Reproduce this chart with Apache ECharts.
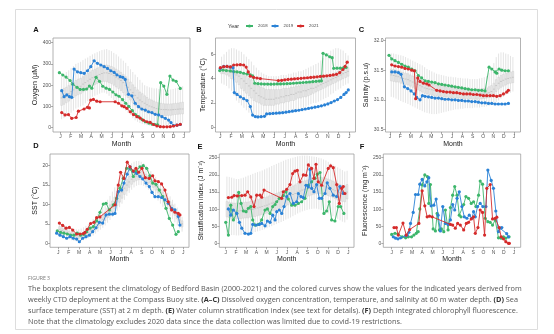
<!DOCTYPE html>
<html>
<head>
<meta charset="utf-8">
<script src="https://cdn.jsdelivr.net/npm/echarts@6/dist/echarts.min.js"></script>
<style>
html,body{margin:0;padding:0;background:#fff}
#c{width:554px;height:334px}
</style>
</head>
<body>
<div id="c"></div>
<script>
// ---- axis labels ----
const monthLetters = ['J','F','M','A','M','J','J','A','S','O','N','D','J'];
const monthTicks = [0,1,2,3,4,5,6,7,8,9,10,11,12];
const years = ['2018','2019','2021'];
const yearColors = ['#3db66b','#2a82d6','#d52b2b'];

// ---- (A) dissolved oxygen, [month, µM] ----
const oxy2018 = [[-0.10,259],[0.23,248],[0.55,238],[0.94,222],[1.20,205],[1.62,190],[1.92,180],[2.24,180],[2.55,182],[2.82,196],[3.05,186],[3.47,237],[3.80,218],[4.12,195],[4.45,186],[4.77,180],[5.10,168],[5.40,155],[5.70,148],[6.05,132],[6.35,115],[6.65,100],[7.00,80],[7.30,62],[7.60,52],[7.95,38],[8.25,28],[8.60,22],[8.90,17],[9.20,15],[9.45,14],[9.75,212],[10.05,196],[10.35,157],[10.65,243],[10.95,224],[11.25,218],[11.65,185]];
const oxy2019 = [[0.13,174],[0.36,146],[0.62,154],[0.88,146],[1.10,143],[1.33,276],[1.66,263],[1.98,259],[2.31,256],[2.63,268],[2.95,287],[3.28,315],[3.60,303],[3.93,295],[4.25,287],[4.58,279],[4.90,268],[5.23,260],[5.49,249],[5.81,240],[6.07,237],[6.30,227],[6.62,157],[6.95,150],[7.27,115],[7.60,99],[7.92,88],[8.25,83],[8.57,75],[8.90,71],[9.22,63],[9.55,60],[9.87,52],[10.20,44],[10.52,36],[10.75,24],[11.00,10],[11.33,12],[11.66,15]];
const oxy2021 = [[0.13,71],[0.45,60],[0.78,62],[1.10,44],[1.53,48],[1.75,78],[2.30,88],[2.63,96],[2.82,93],[2.95,130],[3.21,133],[3.54,125],[3.86,122],[5.32,122],[5.65,115],[5.97,103],[6.20,99],[6.46,91],[6.79,75],[7.10,62],[7.44,52],[7.76,45],[8.08,35],[8.41,28],[8.73,25],[9.06,15],[9.38,8],[9.71,5],[10.03,4],[10.36,4],[10.68,5],[11.00,8],[11.33,12],[11.66,16]];
const oxyLo  = [40,45,55,60, 70,80,90,95, 100,105,115,125,135, 145,150,155,160, 165,165,160,150,140, 130,120,110,100, 90,80,70,60, 45,35,28,22,18, 15,12,10,8, 5,5,5,5,5, 5,8,10,12, 15,18,20,22];
const oxyQ1  = [105,110,118,125, 135,142,150,155, 160,168,175,182,190, 198,203,208,212, 215,218,216,212,208, 200,192,185,175, 165,152,142,130, 118,105,95,88,82, 76,72,68,65, 62,60,58,57,57, 57,58,58,60, 62,63,64,65];
const oxyMed = [140,145,150,160, 170,178,185,190, 195,205,212,220,228, 235,240,245,250, 255,258,258,255,252, 245,238,230,222, 212,200,190,178, 165,152,140,130,122, 115,108,102,98, 94,90,88,86,85, 85,84,84,85, 86,87,88,88];
const oxyQ3  = [178,185,190,198, 208,215,222,228, 232,240,248,255,262, 270,275,280,285, 292,295,295,292,288, 282,275,268,260, 250,240,228,215, 202,190,178,168,160, 150,142,135,130, 125,120,117,115,113, 112,112,112,113, 115,116,118,120];
const oxyHi  = [240,250,262,270, 280,290,300,305, 310,318,325,330,338, 345,350,355,360, 365,368,370,365,360, 352,345,335,325, 315,305,290,275, 262,250,238,225,212, 200,195,190,188, 185,185,182,180,180, 178,178,180,182, 185,188,190,195];

// ---- (B) temperature at 60 m, [month, °C] ----
const temp2018 = [[-0.06,4.66],[0.25,4.70],[0.56,4.66],[0.93,4.63],[1.24,4.58],[1.55,4.55],[1.86,4.52],[2.17,4.44],[2.48,4.38],[2.79,4.30],[3.00,4.22],[3.20,3.62],[3.50,3.58],[3.80,3.56],[4.10,3.55],[4.40,3.55],[4.70,3.54],[5.00,3.55],[5.30,3.56],[5.60,3.56],[5.90,3.57],[6.20,3.58],[6.50,3.60],[6.80,3.62],[7.10,3.64],[7.40,3.66],[7.70,3.68],[8.00,3.70],[8.30,3.72],[8.60,3.75],[8.90,3.78],[9.20,3.80],[9.40,3.82],[9.55,6.08],[9.86,5.95],[10.17,5.80],[10.40,5.72],[10.54,4.85],[10.85,4.86],[11.16,4.86],[11.47,4.90],[11.70,4.92]];
const temp2019 = [[0.00,4.85],[0.31,5.00],[0.62,5.00],[0.93,4.95],[1.18,4.90],[1.30,2.85],[1.55,2.70],[1.86,2.50],[2.17,2.35],[2.48,2.20],[2.79,1.70],[3.00,1.00],[3.25,0.88],[3.50,0.85],[3.80,0.87],[4.10,0.90],[4.30,1.10],[4.60,1.12],[4.90,1.14],[5.20,1.16],[5.50,1.18],[5.80,1.20],[6.10,1.24],[6.40,1.28],[6.70,1.32],[7.00,1.36],[7.30,1.40],[7.60,1.45],[7.90,1.50],[8.20,1.55],[8.50,1.60],[8.80,1.65],[9.10,1.70],[9.40,1.76],[9.70,1.84],[10.00,1.92],[10.30,2.03],[10.60,2.16],[10.90,2.28],[11.20,2.45],[11.50,2.70],[11.70,2.85],[11.90,3.07]];
const temp2021 = [[0.00,4.90],[0.31,4.98],[0.62,5.00],[0.93,4.96],[1.24,5.12],[1.55,5.13],[1.86,5.15],[2.17,5.12],[2.40,4.95],[2.60,4.55],[2.79,4.20],[3.10,4.10],[3.41,4.05],[3.72,4.00],[5.40,3.84],[5.70,3.86],[6.00,3.90],[6.30,3.93],[6.60,3.95],[6.90,3.98],[7.20,4.00],[7.50,4.02],[7.80,4.05],[8.10,4.07],[8.40,4.10],[8.70,4.12],[9.00,4.15],[9.30,4.18],[9.60,4.20],[9.90,4.23],[10.20,4.26],[10.50,4.30],[10.80,4.35],[11.10,4.50],[11.40,4.75],[11.60,5.00],[11.80,5.35]];
const tempLo  = [3.6,3.5,3.4,3.2, 3.0,2.6,2.2,2.0, 1.8,1.6,1.4,1.2,1.1, 1.0,0.9,0.9,0.9, 0.9,0.9,1.0,1.0,1.0, 1.1,1.1,1.2,1.2, 1.3,1.3,1.4,1.4, 1.5,1.5,1.6,1.6,1.7, 1.8,1.9,2.0,2.0, 2.1,2.2,2.3,2.4,2.5, 2.7,2.8,3.0,3.1, 3.2,3.4,3.5,3.6];
const tempQ1  = [4.4,4.4,4.3,4.2, 4.0,3.9,3.7,3.5, 3.2,3.0,2.8,2.6,2.4, 2.2,2.1,2.0,1.9, 1.8,1.8,1.8,1.8,1.8, 1.9,1.9,2.0,2.0, 2.1,2.1,2.2,2.2, 2.3,2.4,2.4,2.5,2.5, 2.6,2.7,2.8,2.9, 3.0,3.1,3.2,3.3,3.4, 3.5,3.6,3.7,3.8, 3.9,4.0,4.1,4.2];
const tempMed = [4.7,4.7,4.6,4.6, 4.5,4.4,4.3,4.2, 4.0,3.8,3.6,3.4,3.2, 3.0,2.8,2.6,2.5, 2.4,2.3,2.3,2.3,2.3, 2.4,2.4,2.5,2.5, 2.6,2.6,2.7,2.7, 2.8,2.9,2.9,3.0,3.0, 3.1,3.2,3.2,3.3, 3.4,3.5,3.6,3.7,3.8, 3.9,4.0,4.1,4.2, 4.3,4.4,4.5,4.6];
const tempQ3  = [5.0,5.0,5.0,4.9, 4.9,4.8,4.7,4.6, 4.5,4.4,4.2,4.0,3.9, 3.7,3.5,3.4,3.3, 3.2,3.1,3.1,3.1,3.1, 3.1,3.1,3.1,3.2, 3.2,3.2,3.3,3.3, 3.4,3.4,3.5,3.5,3.6, 3.6,3.7,3.8,3.8, 3.9,4.0,4.1,4.2,4.3, 4.3,4.4,4.5,4.6, 4.7,4.8,4.9,4.9];
const tempHi  = [5.8,6.0,6.2,6.4, 6.5,6.5,6.4,6.3, 6.2,6.0,5.8,5.6,5.4, 5.1,4.9,4.7,4.5, 4.4,4.3,4.2,4.2,4.2, 4.2,4.2,4.3,4.3, 4.3,4.4,4.4,4.5, 4.5,4.6,4.6,4.7,4.8, 4.9,5.0,5.1,5.2, 5.3,5.5,5.7,5.9,6.1, 6.3,6.4,6.5,6.5, 6.4,6.3,6.1,5.9];

// ---- (C) salinity at 60 m, [month, p.s.u] ----
const sal2018 = [[-0.10,31.75],[0.16,31.69],[0.48,31.66],[0.81,31.63],[1.13,31.60],[1.45,31.57],[1.77,31.55],[2.10,31.52],[2.42,31.49],[2.74,31.41],[3.06,31.37],[3.39,31.32],[3.71,31.31],[4.03,31.30],[4.35,31.29],[4.68,31.27],[5.00,31.26],[5.32,31.25],[5.65,31.24],[5.97,31.23],[6.29,31.22],[6.61,31.21],[6.94,31.20],[7.26,31.19],[7.58,31.18],[7.90,31.17],[8.23,31.17],[8.55,31.16],[8.87,31.16],[9.19,31.15],[9.58,31.55],[9.84,31.52],[10.16,31.47],[10.32,31.45],[10.55,31.52],[10.81,31.50],[11.13,31.49],[11.45,31.49]];
const sal2019 = [[0.16,31.47],[0.48,31.47],[0.81,31.46],[1.06,31.43],[1.39,31.22],[1.71,31.19],[2.03,31.15],[2.35,31.10],[2.58,31.04],[2.90,31.00],[3.13,31.07],[3.39,31.06],[3.71,31.05],[4.03,31.04],[4.35,31.03],[4.68,31.03],[5.00,31.02],[5.32,31.01],[5.65,31.01],[5.97,31.00],[6.29,31.00],[6.61,30.99],[6.94,30.99],[7.26,30.98],[7.58,30.98],[7.90,30.97],[8.23,30.97],[8.55,30.96],[8.87,30.95],[9.19,30.95],[9.52,30.94],[9.84,30.94],[10.16,30.93],[10.48,30.93],[10.81,30.93],[11.13,30.93],[11.45,30.94]];
const sal2021 = [[0.16,31.59],[0.48,31.57],[0.81,31.56],[1.13,31.55],[1.45,31.53],[1.77,31.52],[2.10,31.50],[2.35,31.49],[2.48,31.02],[2.68,31.37],[2.90,31.31],[3.23,31.28],[3.55,31.27],[3.77,31.25],[4.52,31.16],[4.84,31.15],[5.16,31.14],[5.48,31.13],[5.81,31.13],[6.13,31.12],[6.45,31.12],[6.77,31.11],[7.10,31.10],[7.42,31.10],[7.74,31.10],[8.06,31.09],[8.39,31.09],[8.71,31.08],[9.03,31.07],[9.35,31.07],[9.68,31.07],[10.00,31.07],[10.32,31.06],[10.65,31.07],[10.97,31.10],[11.29,31.13],[11.45,31.16]];
const salLo  = [31.05,31.04,31.02,31.00, 30.98,30.96,30.95,30.93, 30.91,30.89,30.87,30.85,30.83, 30.81,30.79,30.78,30.77, 30.76,30.76,30.76,30.77,30.78, 30.79,30.80,30.81,30.82, 30.83,30.84,30.84,30.85, 30.85,30.86,30.86,30.86,30.86, 30.87,30.87,30.87,30.88, 30.88,30.89,30.90,30.91,30.93, 30.96,30.99,31.02,31.05, 31.08,31.10,31.12,31.14];
const salQ1  = [31.32,31.31,31.30,31.30, 31.28,31.27,31.26,31.25, 31.23,31.21,31.19,31.17,31.15, 31.13,31.11,31.10,31.09, 31.08,31.07,31.07,31.06,31.06, 31.05,31.05,31.04,31.04, 31.04,31.03,31.03,31.03, 31.02,31.02,31.02,31.02,31.01, 31.01,31.01,31.01,31.02, 31.02,31.03,31.04,31.06,31.09, 31.14,31.18,31.21,31.23, 31.25,31.27,31.28,31.29];
const salMed = [31.42,31.41,31.40,31.39, 31.37,31.36,31.35,31.34, 31.32,31.30,31.28,31.26,31.24, 31.22,31.20,31.19,31.18, 31.17,31.16,31.15,31.15,31.14, 31.14,31.13,31.13,31.12, 31.12,31.11,31.11,31.11, 31.10,31.10,31.10,31.10,31.09, 31.09,31.09,31.10,31.10, 31.10,31.11,31.12,31.14,31.18, 31.24,31.28,31.31,31.33, 31.35,31.36,31.37,31.38];
const salQ3  = [31.52,31.51,31.50,31.49, 31.47,31.46,31.45,31.44, 31.42,31.40,31.38,31.36,31.34, 31.32,31.30,31.29,31.28, 31.27,31.26,31.25,31.24,31.24, 31.23,31.22,31.22,31.21, 31.21,31.20,31.20,31.19, 31.19,31.19,31.18,31.18,31.18, 31.18,31.18,31.18,31.19, 31.19,31.20,31.22,31.24,31.28, 31.34,31.38,31.41,31.43, 31.45,31.46,31.47,31.48];
const salHi  = [31.78,31.78,31.77,31.76, 31.75,31.74,31.72,31.70, 31.68,31.66,31.64,31.62,31.60, 31.58,31.55,31.52,31.50, 31.48,31.46,31.44,31.43,31.42, 31.41,31.40,31.39,31.39, 31.38,31.38,31.37,31.37, 31.36,31.36,31.36,31.35,31.35, 31.35,31.35,31.36,31.37, 31.38,31.40,31.45,31.52,31.62, 31.72,31.78,31.80,31.80, 31.78,31.77,31.74,31.72];

// ---- (D) sea surface temperature at 2 m, [month, °C] ----
const sst2018 = [[-0.10,3.2],[0.22,2.8],[0.54,2.6],[0.86,2.4],[1.18,2.1],[1.50,2.1],[1.82,2.6],[2.14,2.1],[2.46,2.3],[2.72,3.0],[3.04,3.9],[3.36,4.3],[3.68,5.8],[4.00,8.0],[4.32,10.1],[4.58,10.3],[4.90,8.6],[5.28,9.9],[5.60,11.6],[5.92,14.2],[6.24,16.7],[6.56,19.3],[6.94,19.1],[7.20,17.2],[7.46,18.5],[7.84,19.7],[8.16,20.0],[8.48,19.3],[8.80,17.4],[9.06,15.5],[9.38,15.2],[9.70,13.7],[10.02,12.0],[10.34,9.0],[10.66,6.4],[10.98,4.7],[11.30,2.3],[11.52,3.0]];
const sst2019 = [[-0.16,2.6],[0.16,2.1],[0.48,1.7],[0.80,1.3],[1.12,1.7],[1.44,1.3],[1.76,1.1],[2.02,0.4],[2.34,1.3],[2.66,1.7],[2.98,2.1],[3.30,3.0],[3.62,4.0],[3.94,5.4],[4.26,5.2],[4.58,7.3],[4.90,7.5],[5.22,7.5],[5.44,7.7],[5.76,13.3],[6.08,13.7],[6.30,15.5],[6.62,17.8],[6.88,19.7],[7.20,18.5],[7.52,18.0],[7.84,17.2],[8.10,16.6],[8.42,15.5],[8.74,14.6],[9.00,13.1],[9.28,12.0],[9.60,12.0],[9.92,11.8],[10.24,11.2],[10.56,10.3],[10.88,9.0],[11.20,8.6],[11.52,6.9],[11.68,4.7]];
const sst2021 = [[0.10,5.2],[0.42,4.6],[0.74,3.9],[1.06,4.1],[1.38,3.4],[1.76,2.4],[2.08,2.4],[2.40,2.5],[2.56,2.8],[2.78,3.6],[3.10,5.1],[3.42,5.4],[3.68,6.6],[4.00,6.8],[5.44,9.9],[5.76,15.0],[5.98,18.3],[6.30,16.7],[6.62,20.9],[6.88,19.7],[7.20,18.6],[7.46,19.3],[7.71,18.3],[8.03,19.3],[8.35,16.9],[8.74,16.7],[9.06,17.4],[9.28,16.1],[9.60,15.9],[9.92,15.3],[10.24,13.7],[10.56,10.7],[10.88,8.6],[11.20,8.0],[11.52,7.7],[11.68,7.3]];
const sstLo  = [1.8,1.6,1.4,1.2, 1.0,0.8,0.6,0.5, 0.5,0.6,0.8,1.0,1.3, 1.6,2.0,2.5,3.0, 3.5,4.0,4.6,5.3,6.0, 6.8,7.6,8.4,9.3, 10.2,11.2,12.2,13.0, 13.8,14.4,14.8,15.0,15.0, 14.8,14.4,13.8,13.2, 12.5,11.8,11.0,10.2,9.4, 8.6,7.8,7.0,6.2, 5.4,4.6,3.8,3.0];
const sstQ1  = [2.9,2.6,2.4,2.2, 1.9,1.7,1.5,1.4, 1.3,1.4,1.6,1.9,2.2, 2.6,3.0,3.5,4.0, 4.6,5.2,5.9,6.6,7.3, 8.1,8.9,9.7,10.6, 11.6,12.6,13.5,14.4, 15.2,15.8,16.2,16.4,16.5, 16.4,16.0,15.5,15.0, 14.4,13.7,13.0,12.2,11.4, 10.6,9.8,8.9,8.1, 7.2,6.3,5.2,4.2];
const sstMed = [3.6,3.3,3.0,2.8, 2.5,2.3,2.1,2.0, 1.9,2.0,2.2,2.5,2.8, 3.2,3.7,4.2,4.8, 5.5,6.2,7.0,7.8,8.6, 9.5,10.4,11.3,12.2, 13.2,14.2,15.0,15.8, 16.5,17.0,17.3,17.5,17.5, 17.3,16.9,16.4,15.9, 15.3,14.6,13.9,13.1,12.3, 11.5,10.7,9.8,9.0, 8.0,7.1,6.0,5.0];
const sstQ3  = [4.3,4.0,3.7,3.4, 3.1,2.9,2.7,2.6, 2.5,2.6,2.8,3.1,3.5, 3.9,4.4,5.0,5.6, 6.4,7.2,8.1,9.0,9.9, 10.9,11.9,12.9,13.8, 14.8,15.7,16.5,17.2, 17.8,18.3,18.6,18.7,18.6, 18.3,17.8,17.3,16.8, 16.2,15.5,14.8,14.0,13.2, 12.4,11.6,10.7,9.9, 8.9,7.9,6.8,5.8];
const sstHi  = [5.3,5.0,4.7,4.4, 4.1,3.9,3.7,3.6, 3.6,3.8,4.1,4.5,5.0, 5.6,6.2,6.9,7.6, 8.4,9.3,10.2,11.2,12.2, 13.3,14.4,15.4,16.4, 17.4,18.4,19.3,20.0, 20.6,21.0,21.2,21.2,21.0, 20.6,20.0,19.3,18.6, 17.9,17.1,16.3,15.5,14.7, 13.9,13.0,12.1,11.2, 10.2,9.2,8.0,6.8];

// ---- (E) stratification index, [month, J m-2] ----
const strat2018 = [[0.00,62],[0.26,25],[0.49,112],[0.75,69],[1.08,88],[1.27,149],[1.50,117],[1.73,95],[1.99,93],[2.22,103],[2.45,108],[2.64,69],[2.87,54],[3.20,56],[3.52,69],[3.85,98],[4.08,101],[4.34,88],[4.60,108],[4.83,114],[4.99,122],[5.25,132],[5.64,140],[5.90,151],[6.13,130],[6.46,112],[6.78,112],[7.11,117],[7.43,122],[7.76,132],[8.09,170],[8.41,180],[8.74,190],[8.97,202],[9.23,207],[9.62,88],[9.88,95],[10.14,122],[10.37,69],[10.69,66],[11.02,108],[11.25,108],[11.57,88]];
const strat2019 = [[0.26,101],[0.49,83],[0.75,98],[1.08,88],[1.34,62],[1.57,45],[1.89,30],[2.22,28],[2.45,30],[2.64,56],[2.97,54],[3.29,56],[3.52,59],[3.85,52],[4.08,66],[4.34,62],[4.60,83],[4.83,69],[4.99,93],[5.25,98],[5.48,88],[5.71,108],[5.97,137],[6.29,146],[6.62,117],[6.95,122],[7.11,146],[7.37,137],[7.60,134],[7.86,170],[8.09,165],[8.25,216],[8.41,161],[8.64,151],[8.90,172],[9.16,132],[9.39,132],[9.72,146],[9.94,177],[10.20,161],[10.53,141],[10.86,137],[11.18,166],[11.51,146]];
const strat2021 = [[0.26,134],[0.59,135],[0.82,140],[1.14,139],[1.57,140],[1.89,141],[2.15,151],[2.45,136],[2.77,108],[3.03,141],[3.36,141],[3.52,135],[3.75,156],[5.48,132],[5.64,151],[5.97,158],[6.29,172],[6.55,204],[6.78,211],[7.01,213],[7.27,180],[7.60,200],[7.86,199],[8.09,229],[8.41,219],[8.64,190],[8.84,231],[9.06,180],[9.39,170],[10.04,219],[10.27,226],[10.53,221],[10.86,172],[11.12,117],[11.35,161],[11.51,166],[11.67,146]];
const stratLo  = [28,26,25,25, 24,24,25,26, 27,28,30,32,34, 36,38,40,42, 45,48,51,54,57, 60,63,66,70, 73,76,80,84, 88,91,94,96,98, 100,101,102,102, 100,98,95,92,88, 84,80,76,72, 68,64,62,70];
const stratQ1  = [78,76,74,73, 72,72,73,74, 75,75,77,77,79, 81,83,85,87, 89,92,95,97,99, 102,105,107,110, 113,117,120,123, 127,130,133,135,137, 139,142,144,145, 145,145,144,142,140, 137,134,131,127, 125,123,122,130];
const stratMed = [100,98,96,95, 95,95,96,97, 98,98,100,100,102, 104,106,108,110, 112,115,118,120,122, 125,128,130,133, 136,140,143,146, 150,153,156,158,160, 162,165,167,168, 168,168,167,165,163, 160,157,154,150, 148,146,145,150];
const stratQ3  = [123,121,119,118, 118,118,119,120, 121,121,123,124,126, 128,130,132,134, 136,139,142,144,146, 149,152,155,158, 161,165,168,171, 175,178,181,183,185, 187,190,192,193, 193,193,192,190,188, 185,182,179,175, 172,170,168,172];
const stratHi  = [195,194,192,190, 188,188,190,192, 195,198,200,203,206, 208,210,213,216, 219,222,226,229,232, 235,238,241,244, 246,248,250,252, 254,255,256,256,256, 255,254,253,252, 250,248,245,242,238, 234,230,226,222, 218,214,210,212];

// ---- (F) depth integrated chlorophyll fluorescence, [month, mg m-2] ----
const fluor2018 = [[0.00,27],[0.33,30],[0.62,28],[1.04,20],[1.37,17],[1.63,20],[1.95,20],[2.18,25],[2.41,30],[2.60,35],[2.76,101],[2.99,171],[3.25,200],[3.51,195],[3.64,117],[3.80,172],[4.07,43],[4.29,37],[4.46,88],[4.68,40],[4.88,43],[5.11,35],[5.27,98],[5.53,40],[5.76,105],[5.98,141],[6.18,166],[6.41,141],[6.63,83],[6.80,78],[7.06,114],[7.28,137],[7.54,132],[7.80,117],[8.03,122],[8.26,108],[8.52,141],[8.68,182],[8.91,173],[9.17,74],[9.43,64],[9.66,62],[9.89,54],[10.15,69],[10.47,17],[10.73,16],[10.96,20],[11.19,16],[11.51,20]];
const fluor2019 = [[0.16,20],[0.39,16],[0.62,14],[0.88,17],[1.37,23],[1.53,25],[1.69,33],[1.85,59],[2.11,91],[2.34,143],[2.60,143],[2.76,173],[2.99,187],[3.25,168],[3.45,180],[3.64,192],[3.87,110],[4.13,112],[4.36,130],[4.55,83],[4.78,37],[5.01,108],[5.27,59],[5.53,56],[5.76,69],[5.98,114],[6.18,98],[6.41,132],[6.63,151],[6.89,108],[7.12,78],[7.38,74],[7.61,83],[7.87,74],[8.03,93],[8.20,78],[8.42,108],[8.68,117],[8.94,108],[9.24,108],[9.43,214],[9.76,184],[9.98,161],[10.21,95],[10.47,35],[10.63,45],[10.80,47],[11.28,29],[11.45,20]];
const fluor2021 = [[0.23,47],[0.46,47],[0.65,25],[1.11,60],[1.43,25],[1.76,41],[2.67,59],[2.99,154],[3.25,110],[3.48,78],[3.71,80],[3.97,78],[5.76,56],[5.98,54],[6.24,45],[6.47,59],[6.73,54],[7.06,40],[7.32,59],[7.54,62],[7.80,72],[8.03,78],[8.20,30],[8.46,47],[8.68,98],[8.91,91],[9.11,25],[9.33,161],[9.66,172],[9.89,72],[10.15,74],[10.31,77],[10.54,47],[10.73,20],[10.96,14],[11.19,6],[11.45,1],[11.54,1]];

// ---- panel layout ----
const panels = [
  {tag:'A', tagPos:[36,29.5], grid:{left:53,top:38,width:137,height:94}, xr:[-0.72,12.6], yr:[-20.2,422], yTicks:[0,100,200,300,400], dec:0,
   yName:'Oxygen (µM)', gap:14, lines:[oxy2018,oxy2019,oxy2021], clim:[oxyLo,oxyQ1,oxyMed,oxyQ3,oxyHi]},
  {tag:'B', tagPos:[199,30], grid:{left:215.5,top:38,width:140,height:94}, xr:[-0.45,12.57], yr:[-0.39,7.34], yTicks:[0,2,4,6], dec:0,
   yName:'Temperature (°C)', gap:5, lines:[temp2018,temp2019,temp2021], clim:[tempLo,tempQ1,tempMed,tempQ3,tempHi]},
  {tag:'C', tagPos:[361.5,29.5], grid:{left:385.5,top:38,width:135,height:94}, xr:[-0.44,12.62], yr:[30.458,32.042], yTicks:[30.5,31.0,31.5,32.0], dec:1,
   yName:'Salinity (p.s.u)', gap:14, lines:[sal2018,sal2019,sal2021], clim:[salLo,salQ1,salMed,salQ3,salHi]},
  {tag:'D', tagPos:[36,146], grid:{left:50,top:154,width:139,height:93.3}, xr:[-0.8,12.55], yr:[-1.03,23.0], yTicks:[0,5,10,15,20], dec:0,
   yName:'SST (°C)', gap:10, lines:[sst2018,sst2019,sst2021], clim:[sstLo,sstQ1,sstMed,sstQ3,sstHi]},
  {tag:'E', tagPos:[200,146.5], grid:{left:219.3,top:154,width:134.7,height:93.3}, xr:[-0.63,12.56], yr:[-10.5,260.8], yTicks:[0,50,100,150,200,250], dec:0,
   yName:'Stratification index (J m⁻²)', gap:13, lines:[strat2018,strat2019,strat2021], clim:[stratLo,stratQ1,stratMed,stratQ3,stratHi]},
  {tag:'F', tagPos:[362,146.5], grid:{left:383.3,top:154,width:137.4,height:93.3}, xr:[-0.82,12.65], yr:[-10.5,260.8], yTicks:[0,50,100,150,200,250], dec:0,
   yName:'Fluorescence (mg m⁻²)', gap:13, lines:[fluor2018,fluor2019,fluor2021], clim:null}
];

const plotFont = 'Liberation Sans';
const grids = [], xAxes = [], yAxes = [], series = [], graphics = [];

// weekly climatology boxes: whisker, interquartile box and median tick
function boxRender(params, api) {
  const x = api.value(0);
  const pLo = api.coord([x, api.value(1)]);
  const pQ1 = api.coord([x, api.value(2)]);
  const pMd = api.coord([x, api.value(3)]);
  const pQ3 = api.coord([x, api.value(4)]);
  const pHi = api.coord([x, api.value(5)]);
  const hw = api.size([12 / 52, 0])[0] * 0.36;
  return {
    type: 'group',
    children: [
      {type:'line', shape:{x1:pLo[0], y1:pLo[1], x2:pHi[0], y2:pHi[1]}, style:{stroke:'#d2d2d2', lineWidth:0.6}},
      {type:'rect', shape:{x:pQ1[0]-hw, y:pQ3[1], width:hw*2, height:pQ1[1]-pQ3[1]}, style:{fill:'#e9e9e9', stroke:'#c8c8c8', lineWidth:0.4}},
      {type:'line', shape:{x1:pMd[0]-hw, y1:pMd[1], x2:pMd[0]+hw, y2:pMd[1]}, style:{stroke:'#b4b4b4', lineWidth:0.6}}
    ]
  };
}

panels.forEach((p, i) => {
  grids.push(Object.assign({show:true, borderColor:'#a0a0a0', borderWidth:0.8, backgroundColor:'transparent'}, p.grid));
  xAxes.push({
    gridIndex:i, type:'value', min:p.xr[0], max:p.xr[1],
    axisLine:{show:false, onZero:false}, splitLine:{show:false},
    axisTick:{show:true, length:2, customValues:monthTicks, lineStyle:{color:'#777', width:0.6}},
    axisLabel:{customValues:monthTicks, formatter:v => monthLetters[Math.round(v)], fontSize:5, color:'#555', margin:2.5, fontFamily:plotFont},
    name:'Month', nameLocation:'middle', nameGap:8, nameTextStyle:{fontSize:7, color:'#222', fontFamily:plotFont}
  });
  yAxes.push({
    gridIndex:i, type:'value', min:p.yr[0], max:p.yr[1],
    axisLine:{show:false, onZero:false}, splitLine:{show:false},
    axisTick:{show:true, length:2, customValues:p.yTicks, lineStyle:{color:'#777', width:0.6}},
    axisLabel:{customValues:p.yTicks, formatter:v => v.toFixed(p.dec), fontSize:5, color:'#555', margin:2, fontFamily:plotFont},
    name:p.yName, nameLocation:'middle', nameRotate:90, nameGap:p.gap,
    nameTextStyle:{fontSize:7, color:'#222', fontFamily:plotFont}
  });
  if (p.clim) {
    const [lo, q1, md, q3, hi] = p.clim;
    series.push({
      type:'custom', xAxisIndex:i, yAxisIndex:i, silent:true, z:1,
      data: lo.map((v, k) => [(k + 0.5) * 12 / 52, lo[k], q1[k], md[k], q3[k], hi[k]]),
      encode:{x:0, y:[1,2,3,4,5]},
      renderItem: boxRender
    });
  }
  p.lines.forEach((d, j) => {
    series.push({
      type:'line', name:years[j], xAxisIndex:i, yAxisIndex:i, data:d,
      symbol:'circle', symbolSize:3.2, showSymbol:true, z:3 + j,
      lineStyle:{width:0.9, color:yearColors[j]}, itemStyle:{color:yearColors[j]}
    });
  });
  graphics.push({type:'text', x:p.tagPos[0], y:p.tagPos[1],
    style:{text:p.tag, fontSize:7.5, fontWeight:'bold', fontFamily:plotFont, fill:'#111', align:'center', verticalAlign:'middle'}});
});

// figure frame, legend title and caption
const capFont = 'Open Sans';
const capSize = 7.3;
const capRich = {b:{fontWeight:'bold', fill:'#333', fontSize:capSize, fontFamily:capFont}};
const captionLines = [
  'The boxplots represent the climatology of Bedford Basin (2000-2021) and the colored curves show the values for the indicated years derived from',
  'weekly CTD deployment at the Compass Buoy site. {b|(A–C)} Dissolved oxygen concentration, temperature, and salinity at 60 m water depth. {b|(D)} Sea',
  'surface temperature (SST) at 2 m depth. {b|(E)} Water column stratification index (see text for details). {b|(F)} Depth integrated chlorophyll fluorescence.',
  'Note that the climatology excludes 2020 data since the data collection was limited due to covid-19 restrictions.'
];
graphics.push({type:'rect', shape:{x:15.5, y:9.5, width:522, height:320}, style:{fill:'none', stroke:'#dddddd', lineWidth:1}, z:-1});
graphics.push({type:'text', x:228, y:26.5, style:{text:'Year', fontSize:5.5, fontFamily:plotFont, fill:'#333', verticalAlign:'middle'}});
graphics.push({type:'text', x:28, y:279, style:{text:'FIGURE 3', fontSize:5.2, fontFamily:capFont, fill:'#777', verticalAlign:'middle'}});
captionLines.forEach((t, k) => {
  graphics.push({type:'text', x:28, y:289 + k * 11, style:{text:t, rich:capRich, fontSize:capSize, fontFamily:capFont, fill:'#555', verticalAlign:'middle'}});
});

const chart = echarts.init(document.getElementById('c'), null, {renderer:'canvas'});
chart.setOption({
  animation:false,
  backgroundColor:'#ffffff',
  grid:grids, xAxis:xAxes, yAxis:yAxes, series:series,
  legend:{data:years, left:245, top:24, padding:0, itemWidth:7, itemHeight:4, itemGap:3,
    textStyle:{fontSize:4.3, color:'#444', fontFamily:plotFont}},
  graphic:graphics
});
</script>
</body>
</html>
